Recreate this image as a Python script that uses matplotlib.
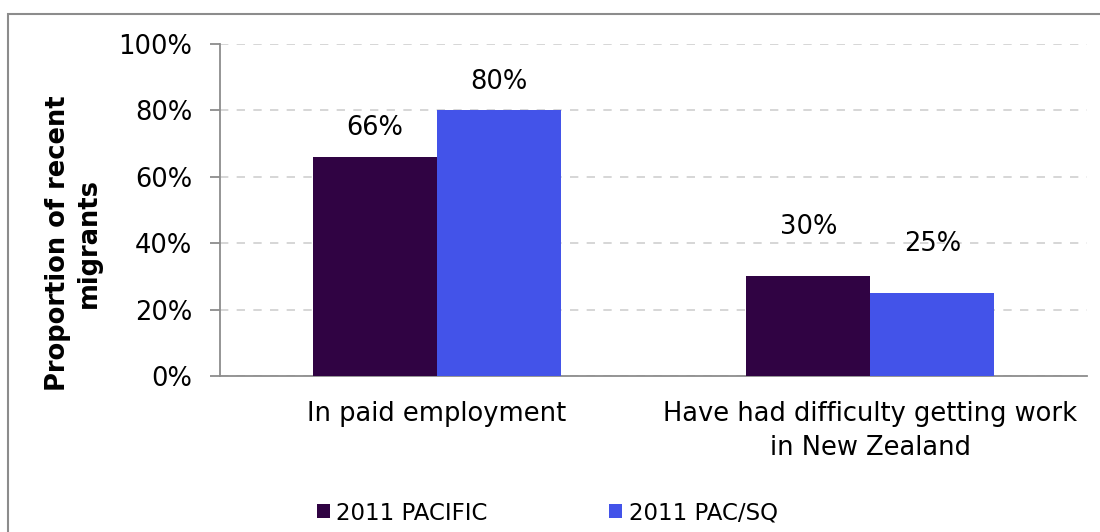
import numpy as np
import matplotlib.pyplot as plt
from matplotlib.patches import Rectangle

categories = ["In paid employment", "Have had difficulty getting work\nin New Zealand"]
series_names = ["2011 PACIFIC", "2011 PAC/SQ"]
pacific = [66, 30]
pac_sq = [80, 25]
colors = ["#300343", "#4353E9"]
# value labels sit higher above the bars in the second group (as in the original)
label_gap = [8.7, 14.8]

plt.rcParams["font.family"] = ["DejaVu Sans"]
fs = 18.5

fig = plt.figure(figsize=(11, 5.32), dpi=100)
# outer chart frame (runs off the right and bottom edges)
fig.patches.append(Rectangle((8 / 1100, -0.05), 1.2, 1 - 14 / 532 + 0.05,
                             transform=fig.transFigure, fill=False,
                             edgecolor="#8c8c8c", linewidth=1.5))

ax = fig.add_axes([220 / 1100, 1 - 376 / 532, 867 / 1100, 332 / 532])
x = np.arange(len(categories))
w = 0.286
b1 = ax.bar(x - w / 2, pacific, w, color=colors[0], label=series_names[0], zorder=3)
b2 = ax.bar(x + w / 2, pac_sq, w, color=colors[1], label=series_names[1], zorder=3)

for bars, vals in [(b1, pacific), (b2, pac_sq)]:
    for i, (r, v) in enumerate(zip(bars, vals)):
        ax.text(r.get_x() + r.get_width() / 2, v + label_gap[i], f"{v}%",
                ha="center", va="center", fontsize=fs, zorder=4)

ax.set_xlim(-0.5, 1.5)
ax.set_ylim(0, 100)
ax.set_yticks(range(0, 101, 20))
ax.set_yticklabels([f"{t}%" for t in range(0, 101, 20)], fontsize=fs)
ax.set_xticks(x)
ax.set_xticklabels(categories, fontsize=fs, linespacing=1.4)
ax.tick_params(axis="x", length=0, pad=18)
ax.tick_params(axis="y", length=7, color="#8c8c8c", width=1.3, pad=13)
ax.grid(axis="y", color="#d0d0d0", linestyle=(0, (5, 5)), linewidth=1.2, zorder=0)
for s in ["top", "right"]:
    ax.spines[s].set_visible(False)
for s in ["left", "bottom"]:
    ax.spines[s].set_color("#8c8c8c")
    ax.spines[s].set_linewidth(1.3)

ax.set_ylabel("Proportion of recent\nmigrants", fontsize=fs, fontweight="bold",
              linespacing=1.25)
ax.yaxis.set_label_coords(-0.136, 0.40)

fig.legend(handles=[b1, b2], loc="center left", bbox_to_anchor=(317 / 1100, 1 - 513 / 532),
           ncol=2, frameon=False, fontsize=16.5, handlelength=0.55, handleheight=0.55,
           handletextpad=0.3, columnspacing=5.3, borderpad=0, borderaxespad=0)

fig.savefig("out.png", dpi=100)
